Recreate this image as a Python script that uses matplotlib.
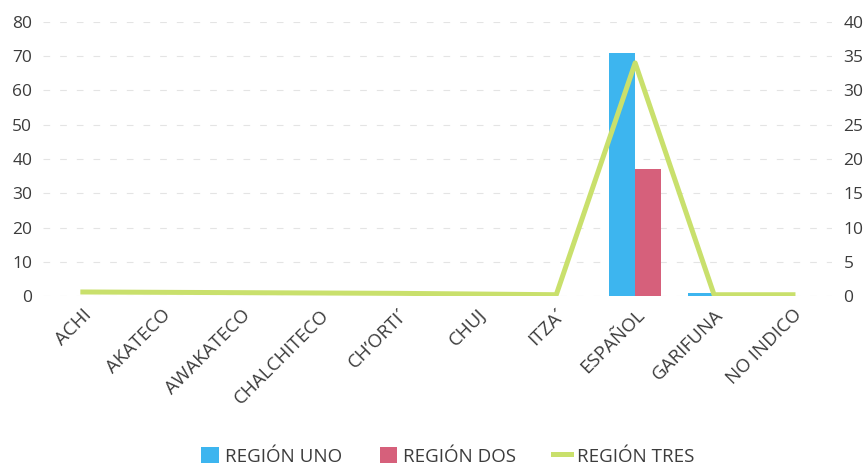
import matplotlib.pyplot as plt
import numpy as np
from matplotlib.patches import Patch
from matplotlib.lines import Line2D

plt.rcParams['font.family'] = ['Open Sans', 'DejaVu Sans']

# datos
idiomas = ["ACHI", "AKATECO", "AWAKATECO", "CHALCHITECO", "CH\u2019ORTI\u00b4",
           "CHUJ", "ITZA\u00b4", "ESPAÑOL", "GARIFUNA", "NO INDICO"]
region_uno = [0, 0, 0, 0, 0, 0, 0, 71, 1, 1]
region_dos = [0, 0, 0, 0, 0, 0, 0, 37, 0, 0]
region_tres = [0.6, 0.55, 0.5, 0.45, 0.4, 0.3, 0.2, 34, 0.2, 0.2]

c_uno = "#3db5ef"
c_dos = "#d6607b"
c_tres = "#c9e06c"

fig = plt.figure(figsize=(8.68, 4.73), dpi=100)
ax = fig.add_axes([0.05, 0.374, 0.909, 0.58])
ax2 = ax.twinx()

x = np.arange(len(idiomas))
w = 0.33
ax.bar(x - w / 2, region_uno, width=w, color=c_uno, zorder=2)
ax.bar(x + w / 2, region_dos, width=w, color=c_dos, zorder=2)
ax2.plot(x, region_tres, color=c_tres, lw=3.6, solid_joinstyle="round")

ax.set_ylim(0, 80)
ax.set_yticks(range(0, 81, 10))
ax2.set_ylim(0, 40)
ax2.set_yticks(range(0, 41, 5))
ax.set_xlim(-0.5, len(idiomas) - 0.5)

# rejilla tenue
ax.grid(axis="y", color="#e4e4e4", linestyle=(0, (6, 9)), lw=0.8, zorder=0)
ax.set_axisbelow(True)

for a in (ax, ax2):
    for s in a.spines.values():
        s.set_visible(False)
    a.tick_params(length=0, labelsize=12.5, colors="#3c3c3c")
ax.tick_params(axis="y", pad=8)
ax2.tick_params(axis="y", pad=8)

ax.set_xticks(x)
ax.set_xticklabels(idiomas, rotation=45, ha="right", rotation_mode="anchor",
                   fontsize=13.5, color="#3c3c3c")
ax.tick_params(axis="x", pad=7)

handles = [
    Patch(facecolor=c_uno, label="REGIÓN UNO"),
    Patch(facecolor=c_dos, label="REGIÓN DOS"),
    Line2D([0], [0], color=c_tres, lw=3.6, label="REGIÓN TRES"),
]
leg = fig.legend(handles=handles, loc="center", bbox_to_anchor=(0.516, 0.035),
                 ncol=3, frameon=False, fontsize=13.5, handlelength=0.95,
                 handleheight=0.95, handletextpad=0.3, columnspacing=2.0)
for t in leg.get_texts():
    t.set_color("#3c3c3c")

fig.savefig("out.png", dpi=100)
